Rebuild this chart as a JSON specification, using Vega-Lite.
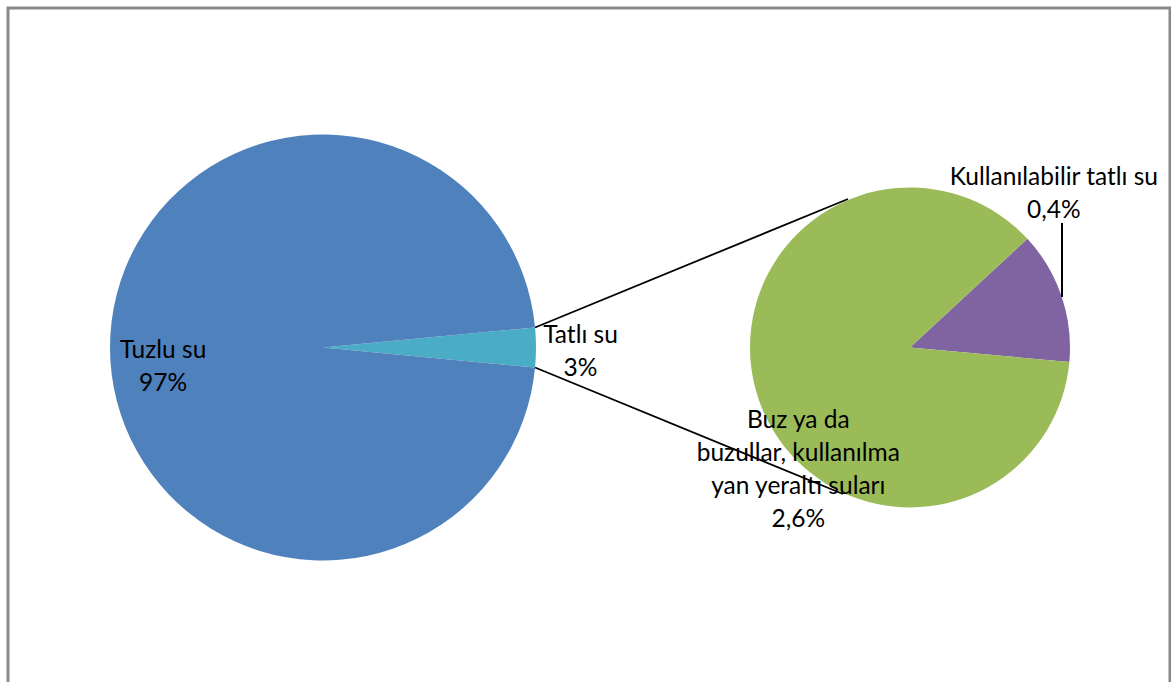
{
  "$schema": "https://vega.github.io/schema/vega-lite/v6.json",
  "width": 1162,
  "height": 682,
  "autosize": {"type": "none"},
  "padding": {"left": 8, "top": 8, "right": 1, "bottom": -8},
  "background": "white",
  "config": {
    "view": {"stroke": "#898989", "strokeWidth": 3},
    "text": {"font": "Lato", "fontSize": 24.5, "color": "#000000", "lineBreak": "\n", "lineHeight": 33}
  },
  "data": {
    "values": [
      {"pasta": "ana", "sira": 1, "ad": "Tatlı su", "yuzde": 3},
      {"pasta": "ana", "sira": 2, "ad": "Tuzlu su", "yuzde": 97},
      {"pasta": "detay", "sira": 1, "ad": "Kullanılabilir tatlı su", "yuzde": 0.4},
      {"pasta": "detay", "sira": 2, "ad": "Buz ya da\nbuzullar, kullanılma\nyan yeraltı suları", "yuzde": 2.6}
    ]
  },
  "transform": [
    {"calculate": "datum.ad + '\\n' + replace(format(datum.yuzde, '~g'), '.', ',') + '%'", "as": "etiket"}
  ],
  "resolve": {"scale": {"theta": "independent"}},
  "layer": [
    {
      "transform": [{"filter": "datum.pasta === 'ana'"}],
      "mark": {"type": "arc", "outerRadius": 213},
      "encoding": {
        "x": {"datum": 27.108, "type": "quantitative", "scale": {"domain": [0, 100], "nice": false, "zero": false}, "axis": null},
        "y": {"datum": 49.78, "type": "quantitative", "scale": {"domain": [0, 100], "nice": false, "zero": false, "reverse": true}, "axis": null},
        "theta": {"field": "yuzde", "type": "quantitative", "stack": true, "scale": {"range": [1.4766, 7.7597]}},
        "order": {"field": "sira", "type": "quantitative"},
        "color": {
          "field": "ad",
          "type": "nominal",
          "scale": {
            "domain": ["Tuzlu su", "Tatlı su", "Buz ya da\nbuzullar, kullanılma\nyan yeraltı suları", "Kullanılabilir tatlı su"],
            "range": ["#4F81BD", "#4BACC6", "#9BBB59", "#8064A2"]
          },
          "legend": null
        }
      }
    },
    {
      "transform": [{"filter": "datum.pasta === 'detay'"}],
      "mark": {"type": "arc", "outerRadius": 160},
      "encoding": {
        "x": {"datum": 77.625, "type": "quantitative", "scale": {"domain": [0, 100], "nice": false, "zero": false}, "axis": null},
        "y": {"datum": 49.78, "type": "quantitative", "scale": {"domain": [0, 100], "nice": false, "zero": false, "reverse": true}, "axis": null},
        "theta": {"field": "yuzde", "type": "quantitative", "stack": true, "scale": {"range": [0.8238, 7.107]}},
        "order": {"field": "sira", "type": "quantitative"},
        "color": {"field": "ad", "type": "nominal", "legend": null}
      }
    },
    {
      "data": {"values": [{}]},
      "mark": {"type": "rule", "color": "#000000", "strokeWidth": 1.8},
      "encoding": {
        "x": {"datum": 45.357, "type": "quantitative", "scale": {"domain": [0, 100], "nice": false, "zero": false}, "axis": null},
        "y": {"datum": 46.842, "type": "quantitative", "scale": {"domain": [0, 100], "nice": false, "zero": false, "reverse": true}, "axis": null},
        "x2": {"datum": 72.289},
        "y2": {"datum": 28.006}
      }
    },
    {
      "data": {"values": [{}]},
      "mark": {"type": "rule", "color": "#000000", "strokeWidth": 1.8},
      "encoding": {
        "x": {"datum": 45.357, "type": "quantitative", "scale": {"domain": [0, 100], "nice": false, "zero": false}, "axis": null},
        "y": {"datum": 52.718, "type": "quantitative", "scale": {"domain": [0, 100], "nice": false, "zero": false, "reverse": true}, "axis": null},
        "x2": {"datum": 71.859},
        "y2": {"datum": 71.261}
      }
    },
    {
      "data": {"values": [{}]},
      "mark": {"type": "rule", "color": "#000000", "strokeWidth": 2},
      "encoding": {
        "x": {"datum": 90.706, "type": "quantitative", "scale": {"domain": [0, 100], "nice": false, "zero": false}, "axis": null},
        "y": {"datum": 31.525, "type": "quantitative", "scale": {"domain": [0, 100], "nice": false, "zero": false, "reverse": true}, "axis": null},
        "y2": {"datum": 42.375}
      }
    },
    {
      "transform": [{"filter": "datum.pasta === 'ana'"}],
      "mark": {"type": "text", "radius": 160, "dy": 4},
      "encoding": {
        "x": {"datum": 27.108, "type": "quantitative", "scale": {"domain": [0, 100], "nice": false, "zero": false}, "axis": null},
        "y": {"datum": 49.78, "type": "quantitative", "scale": {"domain": [0, 100], "nice": false, "zero": false, "reverse": true}, "axis": null},
        "theta": {"field": "yuzde", "type": "quantitative", "stack": true, "scale": {"range": [1.4766, 7.7597]}},
        "order": {"field": "sira", "type": "quantitative"},
        "text": {"condition": {"test": "datum.ad === 'Tuzlu su'", "field": "etiket"}, "value": ""}
      }
    },
    {
      "transform": [{"filter": "datum.pasta === 'ana'"}],
      "mark": {"type": "text", "radius": 257.5, "dy": -12},
      "encoding": {
        "x": {"datum": 27.108, "type": "quantitative", "scale": {"domain": [0, 100], "nice": false, "zero": false}, "axis": null},
        "y": {"datum": 49.78, "type": "quantitative", "scale": {"domain": [0, 100], "nice": false, "zero": false, "reverse": true}, "axis": null},
        "theta": {"field": "yuzde", "type": "quantitative", "stack": true, "scale": {"range": [1.4766, 7.7597]}},
        "order": {"field": "sira", "type": "quantitative"},
        "text": {"condition": {"test": "datum.ad === 'Tatlı su'", "field": "etiket"}, "value": ""}
      }
    },
    {
      "transform": [{"filter": "datum.pasta === 'detay'"}],
      "mark": {"type": "text", "radius": 152, "dy": -121},
      "encoding": {
        "x": {"datum": 77.625, "type": "quantitative", "scale": {"domain": [0, 100], "nice": false, "zero": false}, "axis": null},
        "y": {"datum": 49.78, "type": "quantitative", "scale": {"domain": [0, 100], "nice": false, "zero": false, "reverse": true}, "axis": null},
        "theta": {"field": "yuzde", "type": "quantitative", "stack": true, "scale": {"range": [0.8238, 7.107]}},
        "order": {"field": "sira", "type": "quantitative"},
        "text": {"condition": {"test": "datum.ad === 'Kullanılabilir tatlı su'", "field": "etiket"}, "value": ""}
      }
    },
    {
      "transform": [{"filter": "datum.pasta === 'detay'"}],
      "mark": {"type": "text", "radius": 118, "dy": 35.5},
      "encoding": {
        "x": {"datum": 77.625, "type": "quantitative", "scale": {"domain": [0, 100], "nice": false, "zero": false}, "axis": null},
        "y": {"datum": 49.78, "type": "quantitative", "scale": {"domain": [0, 100], "nice": false, "zero": false, "reverse": true}, "axis": null},
        "theta": {"field": "yuzde", "type": "quantitative", "stack": true, "scale": {"range": [0.8238, 7.107]}},
        "order": {"field": "sira", "type": "quantitative"},
        "text": {"condition": {"test": "datum.sira === 2", "field": "etiket"}, "value": ""}
      }
    }
  ]
}
